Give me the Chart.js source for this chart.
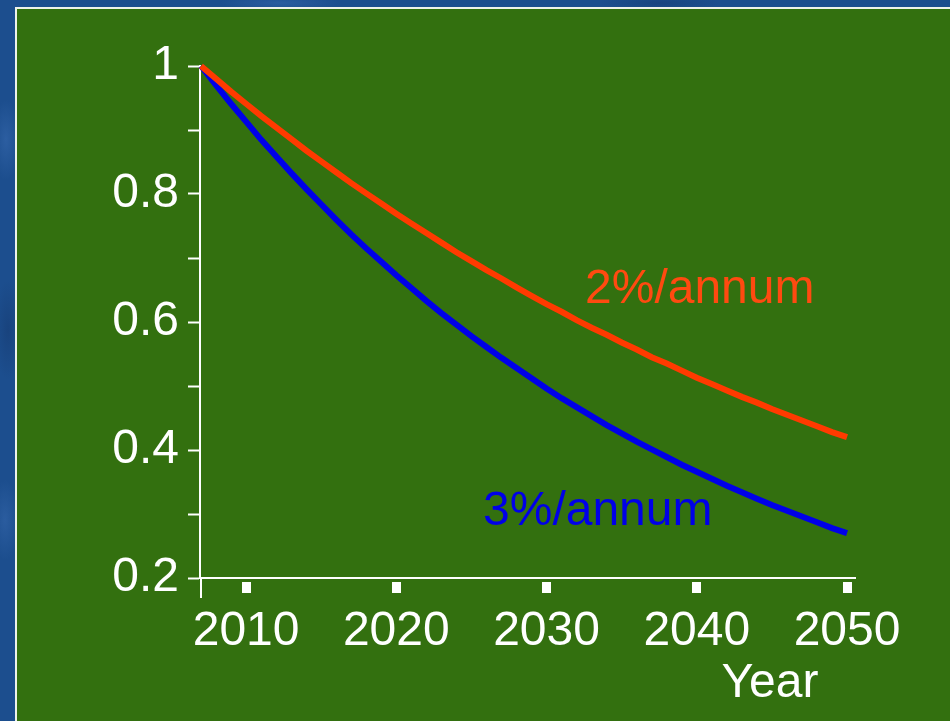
<!DOCTYPE html>
<html>
<head>
<meta charset="utf-8">
<title>Decline at 2% and 3% per annum</title>
<script src="https://cdn.jsdelivr.net/npm/chart.js@4.4.1/dist/chart.umd.min.js"></script>
<style>
  html, body { margin: 0; padding: 0; }
  body {
    width: 950px; height: 721px; overflow: hidden; position: relative;
    background-color: #1c4e8e;
    background-image:
      radial-gradient(ellipse 14px 40px at 6px 140px, rgba(60,110,180,0.5) 0, rgba(60,110,180,0) 100%),
      radial-gradient(ellipse 14px 50px at 8px 330px, rgba(22,58,112,0.55) 0, rgba(22,58,112,0) 100%),
      radial-gradient(ellipse 14px 40px at 5px 520px, rgba(60,110,180,0.45) 0, rgba(60,110,180,0) 100%),
      radial-gradient(ellipse 60px 8px at 280px 3px, rgba(60,110,180,0.45) 0, rgba(60,110,180,0) 100%),
      radial-gradient(ellipse 60px 8px at 660px 3px, rgba(22,58,112,0.5) 0, rgba(22,58,112,0) 100%);
  }
  #panel {
    position: absolute; left: 15px; top: 7px; right: 0; bottom: 0;
    background: #33700f;
    border-left: 2px solid #eef2ea; border-top: 2px solid #eef2ea;
  }
  #wrap { position: absolute; left: 0; top: 0; width: 950px; height: 721px; }
</style>
</head>
<body>
<div id="panel"></div>
<div id="wrap"><canvas id="chart"></canvas></div>
<script>
// Years covered by the two curves
const years = [2007, 2008, 2009, 2010, 2011, 2012, 2013, 2014, 2015, 2016,
               2017, 2018, 2019, 2020, 2021, 2022, 2023, 2024, 2025, 2026,
               2027, 2028, 2029, 2030, 2031, 2032, 2033, 2034, 2035, 2036,
               2037, 2038, 2039, 2040, 2041, 2042, 2043, 2044, 2045, 2046,
               2047, 2048, 2049, 2050];

// Remaining fraction, falling 2% per annum
const decline2 = [1.000, 0.980, 0.960, 0.941, 0.922, 0.904, 0.886, 0.868, 0.851, 0.834,
                  0.817, 0.801, 0.785, 0.769, 0.754, 0.739, 0.724, 0.709, 0.695, 0.681,
                  0.668, 0.654, 0.641, 0.628, 0.616, 0.603, 0.591, 0.580, 0.568, 0.557,
                  0.545, 0.535, 0.524, 0.513, 0.503, 0.493, 0.483, 0.474, 0.464, 0.455,
                  0.446, 0.437, 0.428, 0.420];

// Remaining fraction, falling 3% per annum
const decline3 = [1.000, 0.970, 0.941, 0.913, 0.885, 0.859, 0.833, 0.808, 0.784, 0.760,
                  0.737, 0.715, 0.694, 0.673, 0.653, 0.633, 0.614, 0.596, 0.578, 0.561,
                  0.544, 0.528, 0.512, 0.496, 0.481, 0.467, 0.453, 0.439, 0.426, 0.413,
                  0.401, 0.389, 0.377, 0.366, 0.355, 0.344, 0.334, 0.324, 0.314, 0.305,
                  0.296, 0.287, 0.278, 0.270];

const seriesNames = ['2%/annum', '3%/annum'];
const yearTicks = [2010, 2020, 2030, 2040, 2050];
const valueTicks = [0.2, 0.3, 0.4, 0.5, 0.6, 0.7, 0.8, 0.9, 1.0];
const valueLabels = ['0.2', '', '0.4', '', '0.6', '', '0.8', '', '1'];
const axisTitle = 'Year';

const FONT = '"Liberation Sans", Arial, Helvetica, sans-serif';
const FONT_SIZE = 48;
const WHITE = '#ffffff';
const RED = '#ff3a00';
const BLUE = '#0000e8';

const toPoints = vals => years.map((yr, i) => ({ x: yr, y: vals[i] }));

// Inline curve labels and the axis title, placed in data units
const annotations = [
  { text: seriesNames[0], x: 2032.56, y: 0.650, color: '#ff4a10', align: 'left' },
  { text: seriesNames[1], x: 2025.77, y: 0.303, color: BLUE, align: 'left' },
  { text: axisTitle, x: 2044.87, y: 0.034, color: WHITE, align: 'center' }
];

const annotationPlugin = {
  id: 'annotations',
  afterDraw(chart) {
    const { ctx, scales: { x, y }, chartArea } = chart;
    ctx.save();
    // y axis line runs on a little below the x axis
    ctx.strokeStyle = WHITE;
    ctx.lineWidth = 2;
    ctx.beginPath();
    ctx.moveTo(chartArea.left + 1, chartArea.bottom);
    ctx.lineTo(chartArea.left + 1, chartArea.bottom + 20);
    ctx.stroke();
    ctx.font = FONT_SIZE + 'px ' + FONT;
    ctx.textBaseline = 'middle';
    annotations.forEach(a => {
      ctx.fillStyle = a.color;
      ctx.textAlign = a.align;
      ctx.fillText(a.text, x.getPixelForValue(a.x), y.getPixelForValue(a.y));
    });
    ctx.restore();
  }
};

new Chart(document.getElementById('chart'), {
  type: 'line',
  data: {
    datasets: [
      { label: seriesNames[0], data: toPoints(decline2), borderColor: RED,
        borderWidth: 6, pointRadius: 0, tension: 0, clip: false },
      { label: seriesNames[1], data: toPoints(decline3), borderColor: BLUE,
        borderWidth: 6, pointRadius: 0, tension: 0, clip: false }
    ]
  },
  options: {
    responsive: true,
    maintainAspectRatio: false,
    animation: false,
    events: [],
    layout: { padding: { left: 0, right: 95, top: 66, bottom: 0 } },
    plugins: { legend: { display: false }, tooltip: { enabled: false }, title: { display: false } },
    scales: {
      x: {
        type: 'linear',
        position: 'bottom',
        min: 2006.933,
        max: 2050.53,
        afterFit(scale) { scale.height = 143; },
        afterBuildTicks(scale) { scale.ticks = yearTicks.map(v => ({ value: v })); },
        border: { display: true, color: WHITE, width: 2 },
        grid: {
          drawOnChartArea: false, drawTicks: true, tickLength: 15,
          tickWidth: 9, tickColor: WHITE, tickBorderDash: [0, 3, 12, 100]
        },
        ticks: {
          color: WHITE, padding: 10, maxRotation: 0, autoSkip: false,
          font: { family: FONT, size: FONT_SIZE },
          callback: v => String(v)
        }
      },
      y: {
        type: 'linear',
        position: 'left',
        min: 0.2,
        max: 1,
        afterFit(scale) { scale.width = 200; },
        afterBuildTicks(scale) { scale.ticks = valueTicks.map(v => ({ value: v })); },
        border: { display: true, color: WHITE, width: 2 },
        grid: {
          drawOnChartArea: false, drawTicks: true, tickLength: 12,
          tickWidth: 2, tickColor: WHITE
        },
        ticks: {
          color: WHITE, padding: 9, autoSkip: false,
          font: { family: FONT, size: FONT_SIZE },
          callback: (v, i) => valueLabels[i]
        }
      }
    }
  },
  plugins: [annotationPlugin]
});
</script>
</body>
</html>
